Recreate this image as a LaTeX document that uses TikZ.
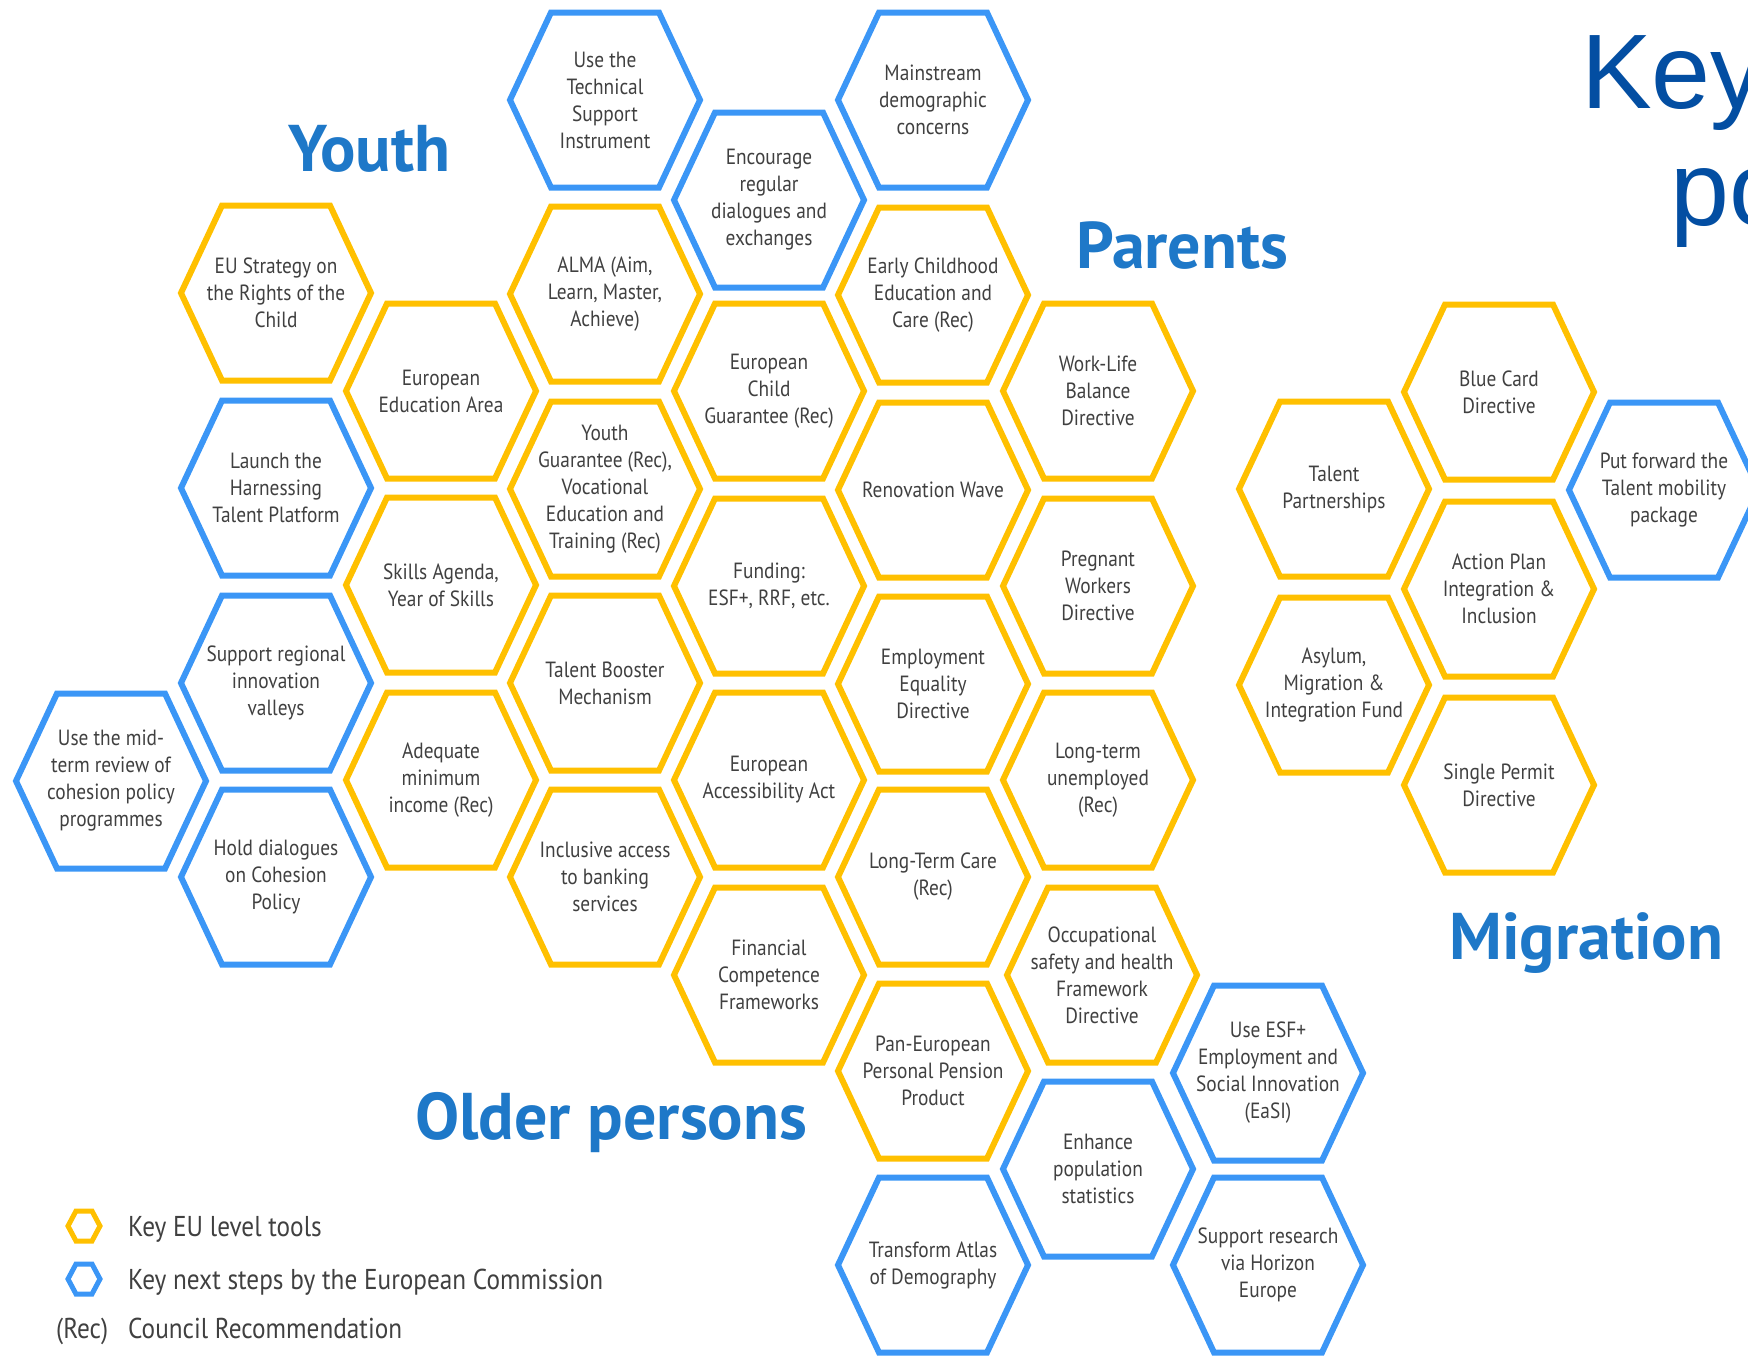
\documentclass[tikz,border=0pt]{standalone}
\usepackage{xcolor}
\usepackage{fontspec}
\setmainfont{PT Sans}[FakeStretch=0.88]
\newfontfamily\groupfont{PT Sans}
\newfontfamily\keyfont{Liberation Sans}
\usepackage{tikz}

\definecolor{hexyellow}{HTML}{FFC000}
\definecolor{hexblue}{HTML}{3B96F6}
\definecolor{groupblue}{HTML}{1E78C8}
\definecolor{keyblue}{HTML}{034EA2}
\definecolor{textgray}{HTML}{404040}

\begin{document}
\begin{tikzpicture}[x=1pt,y=-1pt,
             yellowhex/.style={draw=hexyellow,line width=6pt},
             bluehex/.style={draw=hexblue,line width=6pt},
             hexlabel/.style={draw=none,align=center,text=textgray,font=\fontsize{22}{27}\selectfont},
             grouptitle/.style={draw=none,anchor=base west,inner sep=0pt,text=groupblue,font=\groupfont\fontsize{66}{70}\selectfont\bfseries},
             legendtext/.style={draw=none,anchor=base west,inner sep=0pt,text=textgray,font=\fontsize{28.7}{31}\selectfont}]
             \useasboundingbox (0,0) rectangle (1748,1357);
             \clip (0,0) rectangle (1748,1357);

             \foreach \n/\x/\y/\col/\txt in {
               midterm/111/781/bluehex/{Use the mid-\\term review of\\cohesion policy\\programmes},
               rights/276/293/yellowhex/{EU Strategy on\\the Rights of the\\Child},
               harness/276/488/bluehex/{Launch the\\Harnessing\\Talent Platform},
               valleys/276/683/bluehex/{Support regional\\innovation\\valleys},
               cohesion/276/877/bluehex/{Hold dialogues\\on Cohesion\\Policy},
               eea/441/391/yellowhex/{European\\Education Area},
               skills/441/585/yellowhex/{Skills Agenda,\\Year of Skills},
               minincome/441/780/yellowhex/{Adequate\\minimum\\income (Rec)},
               tsi/605/100/bluehex/{Use the\\Technical\\Support\\Instrument},
               alma/605/294/yellowhex/{ALMA (Aim,\\Learn, Master,\\Achieve)},
               youthg/605/489/yellowhex/{Youth\\Guarantee (Rec),\\Vocational\\Education and\\Training (Rec)},
               booster/605/683/yellowhex/{Talent Booster\\Mechanism},
               banking/605/877/yellowhex/{Inclusive access\\to banking\\services},
               dialogues/769/200/bluehex/{Encourage\\regular\\dialogues and\\exchanges},
               childg/769/391/yellowhex/{European\\Child\\Guarantee (Rec)},
               funding/769/586/yellowhex/{Funding:\\ESF+, RRF, etc.},
               access/769/780/yellowhex/{European\\Accessibility Act},
               fincomp/769/975/yellowhex/{Financial\\Competence\\Frameworks},
               mainstream/933/100/bluehex/{Mainstream\\demographic\\concerns},
               ecec/933/295/yellowhex/{Early Childhood\\Education and\\Care (Rec)},
               renovation/933/490/yellowhex/{Renovation Wave},
               equality/933/684/yellowhex/{Employment\\Equality\\Directive},
               ltc/933/877/yellowhex/{Long-Term Care\\(Rec)},
               pepp/933/1071/yellowhex/{Pan-European\\Personal Pension\\Product},
               atlas/933/1265/bluehex/{Transform Atlas\\of Demography},
               worklife/1098/391/yellowhex/{Work-Life\\Balance\\Directive},
               pregnant/1098/586/yellowhex/{Pregnant\\Workers\\Directive},
               ltu/1098/780/yellowhex/{Long-term\\unemployed\\(Rec)},
               osh/1102/975/yellowhex/{Occupational\\safety and health\\Framework\\Directive},
               stats/1098/1169/bluehex/{Enhance\\population\\statistics},
               easi/1268/1073/bluehex/{Use ESF+\\Employment and\\Social Innovation\\(EaSI)},
               horizon/1268/1265/bluehex/{Support research\\via Horizon\\Europe},
               talentp/1334/489/yellowhex/{Talent\\Partnerships},
               asylum/1334/685/yellowhex/{Asylum,\\Migration \&\\Integration Fund},
               bluecard/1499/392/yellowhex/{Blue Card\\Directive},
               actionplan/1499/589/yellowhex/{Action Plan\\Integration \&\\Inclusion},
               singlepermit/1499/785/yellowhex/{Single Permit\\Directive},
               talentmob/1664/490/bluehex/{Put forward the\\Talent mobility\\package}}{
               \draw[\col] (\x,\y) ++(-95,0) -- ++(41,-87.5) -- ++(108,0) -- ++(41,87.5) -- ++(-41,87.5) -- ++(-108,0) -- cycle;
               \node[hexlabel] (\n) at (\x,\y) {\txt};
             }

             \node[grouptitle] (youth) at (288,171) {Youth};
             \node[grouptitle] (parents) at (1076,268) {Parents};
             \node[grouptitle] (migration) at (1449,959) {Migration};
             \node[grouptitle] (older) at (415,1139) {Older persons};

             \node[draw=none,anchor=base west,inner sep=0pt,text=keyblue,font=\keyfont\fontsize{106}{110}\selectfont] (keyline) at (1581,108) {Key};
             \node[draw=none,anchor=base west,inner sep=0pt,text=keyblue,font=\keyfont\fontsize{106}{110}\selectfont] (poline) at (1670,225) {po};

             \draw[yellowhex,line width=5pt] (84,1226) ++(-16,0) -- ++(8,-15) -- ++(16,0) -- ++(8,15) -- ++(-8,15) -- ++(-16,0) -- cycle;
             \draw[bluehex,line width=5pt] (84,1279) ++(-16,0) -- ++(8,-15) -- ++(16,0) -- ++(8,15) -- ++(-8,15) -- ++(-16,0) -- cycle;
             \node[legendtext] (legtools) at (128,1236) {Key EU level tools};
             \node[legendtext] (legsteps) at (128,1289) {Key next steps by the European Commission};
             \node[legendtext] (recmark) at (56,1338) {(Rec)};
             \node[legendtext] (legrec) at (128,1338) {Council Recommendation};
             \end{tikzpicture}
\end{document}
